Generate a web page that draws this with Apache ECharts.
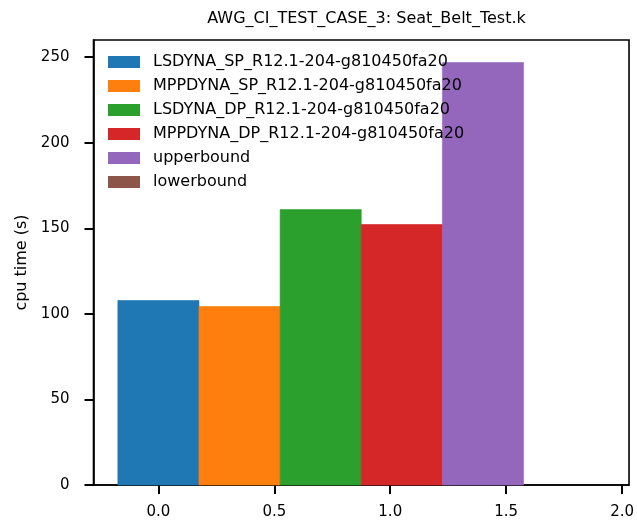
<!DOCTYPE html>
<html>
<head>
<meta charset="utf-8">
<script src="https://cdn.jsdelivr.net/npm/echarts@6/dist/echarts.min.js"></script>
<style>
  html, body { margin: 0; padding: 0; background: #fff; }
  #chart { width: 637px; height: 529px; }
</style>
</head>
<body>
<div id="chart"></div>
<script>
const seriesNames = [
  'LSDYNA_SP_R12.1-204-g810450fa20',
  'MPPDYNA_SP_R12.1-204-g810450fa20',
  'LSDYNA_DP_R12.1-204-g810450fa20',
  'MPPDYNA_DP_R12.1-204-g810450fa20',
  'upperbound',
  'lowerbound'
]
const barPositions = [0, 0.35, 0.7, 1.05, 1.4, 1.75]
const cpuTimes = [107.8, 104.3, 160.9, 152.2, 246.8, 0]
const barWidth = 0.35
const xTicks = [0, 0.5, 1, 1.5, 2]
const yTicks = [0, 50, 100, 150, 200, 250]

const colors = ['#1f77b4', '#ff7f0e', '#2ca02c', '#d62728', '#9467bd', '#8c564b']
const font = 'DejaVu Sans'

const chart = echarts.init(document.getElementById('chart'))

const series = seriesNames.map((name, i) => ({
  name: name,
  type: 'custom',
  itemStyle: { color: colors[i] },
  data: [[barPositions[i], cpuTimes[i]]],
  renderItem: (params, api) => {
    const x = api.value(0)
    const y = api.value(1)
    if (!y) return null
    const p0 = api.coord([x - barWidth / 2, 0])
    const p1 = api.coord([x + barWidth / 2, y])
    return {
      type: 'rect',
      shape: { x: p0[0], y: p1[1], width: p1[0] - p0[0], height: p0[1] - p1[1] },
      style: { fill: colors[i], stroke: colors[i], lineWidth: 0.6 }
    }
  }
}))

chart.setOption({
  animation: false,
  color: colors,
  title: {
    text: 'AWG_CI_TEST_CASE_3: Seat_Belt_Test.k',
    left: 361.5,
    textAlign: 'center',
    top: 6,
    textStyle: { fontFamily: font, fontSize: 16, fontWeight: 'normal', color: '#000' }
  },
  legend: {
    orient: 'vertical',
    left: 103,
    top: 49,
    itemWidth: 32,
    itemHeight: 12,
    itemGap: 8,
    icon: 'rect',
    textStyle: { fontFamily: font, fontSize: 16, color: '#000', lineHeight: 16, padding: [0, 0, 0, 8] },
    data: seriesNames
  },
  grid: {
    left: 93.5,
    right: 7.5,
    top: 40,
    bottom: 44,
    show: true,
    borderColor: '#000',
    borderWidth: 1.6
  },
  xAxis: {
    type: 'value',
    min: -0.28,
    max: 2.03,
    splitLine: { show: false },
    axisLine: { show: true, onZero: false, lineStyle: { color: '#000', width: 1.6 } },
    axisTick: { show: true, length: 9, lineStyle: { color: '#000', width: 2 }, customValues: xTicks },
    axisLabel: {
      customValues: xTicks,
      margin: 20,
      color: '#000',
      fontFamily: font,
      fontSize: 15,
      formatter: v => v.toFixed(1)
    }
  },
  yAxis: {
    type: 'value',
    min: 0,
    max: 260,
    name: 'cpu time (s)',
    nameLocation: 'middle',
    nameGap: 62,
    nameTextStyle: { fontFamily: font, fontSize: 16, color: '#000' },
    splitLine: { show: false },
    axisLine: { show: true, onZero: false, lineStyle: { color: '#000', width: 1.6 } },
    axisTick: { show: true, length: 9, lineStyle: { color: '#000', width: 2 }, customValues: yTicks },
    axisLabel: {
      customValues: yTicks,
      margin: 24,
      color: '#000',
      fontFamily: font,
      fontSize: 15
    }
  },
  series: series
})
</script>
</body>
</html>
